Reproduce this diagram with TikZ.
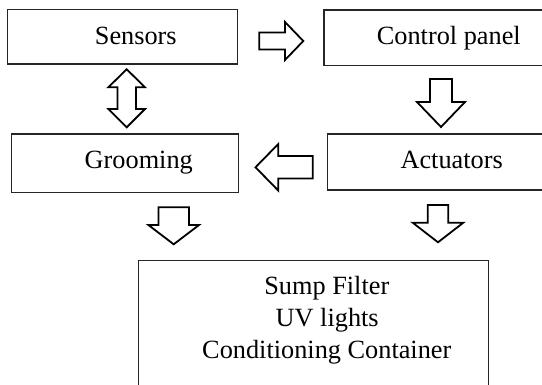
\documentclass[tikz,border=0pt]{standalone}
\usepackage{fontspec}
\setmainfont{Liberation Serif}
\begin{document}
\begin{tikzpicture}[x=1pt,y=-1pt,
  box/.style={draw=black!85, line width=1.2pt, fill=none, inner sep=0pt, outer sep=0pt},
  label/.style={anchor=base, inner sep=0pt, font=\fontsize{26.3}{32.2}\selectfont},
  blockarrow/.style={draw=black, line width=1.8pt, fill=white, line join=miter, miter limit=10}]
  \useasboundingbox (0,0) rectangle (542,385);
  \clip (0,0) rectangle (542,385);

  % boxes (the right-hand and bottom boxes run past the page edge)
  \node[box, minimum width=230pt, minimum height=54.7pt] (sensors) at (122.3,36.65) {};
  \node[box, minimum width=246pt, minimum height=55.5pt] (control) at (447,37.75) {};
  \node[box, minimum width=227pt, minimum height=58.7pt] (grooming) at (125.2,163.35) {};
  \node[box, minimum width=242.7pt, minimum height=56pt] (actuators) at (448.65,162) {};
  \node[box, minimum width=350pt, minimum height=139.5pt] (outputs) at (313.3,330.25) {};

  % box texts
  \node[label] (sensorsT) at (135.8,45) {Sensors};
  \node[label] (controlT) at (448.8,44.5) {Control panel};
  \node[label] (groomingT) at (138.8,168.3) {Grooming};
  \node[label] (actuatorsT) at (451.7,168.3) {Actuators};
  \node[label] (out1) at (326.8,294.3) {Sump Filter};
  \node[label] (out2) at (327.2,326.5) {UV lights};
  \node[label] (out3) at (326.8,358.7) {Conditioning Container};

  % block arrows
  % Sensors -> Control panel
  \draw[blockarrow] (259.3,32.5) -- (285,32.5) -- (285,22) -- (303.3,41)
    -- (285,60) -- (285,49.5) -- (259.3,49.5) -- cycle;
  % Control panel -> Actuators
  \draw[blockarrow] (430,79) -- (452,79) -- (452,102) -- (465,102)
    -- (441,127) -- (417,102) -- (430,102) -- cycle;
  % Actuators -> Grooming
  \draw[blockarrow] (312.7,156) -- (278.3,156) -- (278.3,144) -- (255.5,167.3)
    -- (278.3,190.6) -- (278.3,178.6) -- (312.7,178.6) -- cycle;
  % Sensors <-> Grooming
  \draw[blockarrow] (126.7,69.3) -- (145,87.3) -- (136,87.3) -- (136,109)
    -- (145,109) -- (126.7,127.3) -- (108.3,109) -- (117.4,109)
    -- (117.4,87.3) -- (108.3,87.3) -- cycle;
  % Grooming -> outputs
  \draw[blockarrow] (158.4,207.3) -- (189,207.3) -- (189,225) -- (199,225)
    -- (173.7,244.3) -- (148.4,225) -- (158.4,225) -- cycle;
  % Actuators -> outputs
  \draw[blockarrow] (427.8,205) -- (448.2,205) -- (448.2,222.7) -- (463.3,222.7)
    -- (438,242.3) -- (412.7,222.7) -- (427.8,222.7) -- cycle;
\end{tikzpicture}
\end{document}
